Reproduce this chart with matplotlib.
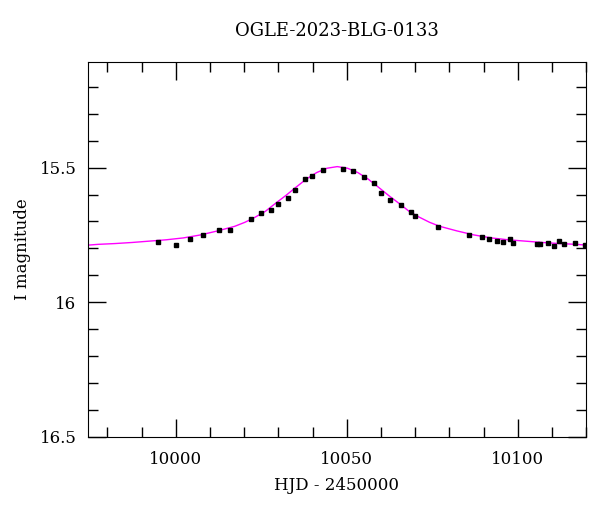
import numpy as np
import matplotlib.pyplot as plt
from matplotlib.ticker import MultipleLocator

# observed photometry (HJD - 2450000, I mag, error)
hjd = [9994.9, 10000.0, 10004.0, 10007.9, 10012.7, 10015.9, 10022.0, 10024.9,
       10027.9, 10029.9, 10032.9, 10034.9, 10037.8, 10039.9, 10042.9, 10048.8,
       10051.8, 10054.9, 10058.0, 10060.0, 10062.7, 10065.9, 10068.7, 10070.0,
       10076.8, 10085.8, 10089.6, 10091.7, 10093.9, 10095.8, 10097.7, 10098.7,
       10105.6, 10106.5, 10108.7, 10110.6, 10111.9, 10113.5, 10116.8, 10119.7]
mag = [15.776, 15.786, 15.765, 15.752, 15.731, 15.732, 15.691, 15.669,
       15.659, 15.634, 15.613, 15.583, 15.543, 15.531, 15.509, 15.505,
       15.513, 15.536, 15.558, 15.595, 15.620, 15.638, 15.663, 15.681,
       15.721, 15.752, 15.758, 15.764, 15.771, 15.776, 15.765, 15.780,
       15.784, 15.784, 15.781, 15.790, 15.774, 15.783, 15.781, 15.786]
err = [0.005, 0.005, 0.005, 0.005, 0.005, 0.005, 0.005, 0.005,
       0.005, 0.004, 0.004, 0.004, 0.004, 0.004, 0.004, 0.004,
       0.004, 0.004, 0.004, 0.004, 0.004, 0.004, 0.005, 0.005,
       0.005, 0.005, 0.005, 0.005, 0.005, 0.005, 0.006, 0.006,
       0.005, 0.005, 0.005, 0.005, 0.006, 0.005, 0.005, 0.006]

# model curve
model_t = [9974.2, 9977.2, 9982.2, 9987.2, 9992.2, 9997.2, 10002.2, 10007.2,
           10012.2, 10017.2, 10020.2, 10023.2, 10026.2, 10029.2, 10032.2,
           10035.2, 10038.2, 10041.2, 10044.2, 10047.2, 10050.2, 10053.2,
           10056.2, 10059.2, 10062.2, 10065.2, 10068.2, 10071.2, 10074.2,
           10077.2, 10082.2, 10087.2, 10092.2, 10097.2, 10102.2, 10107.2,
           10112.2, 10117.2, 10120.2]
model_m = [15.788, 15.785, 15.782, 15.778, 15.773, 15.768, 15.761, 15.750,
           15.735, 15.718, 15.703, 15.684, 15.662, 15.632, 15.603,
           15.572, 15.542, 15.518, 15.502, 15.496, 15.502, 15.518,
           15.542, 15.572, 15.603, 15.632, 15.662, 15.684, 15.703,
           15.718, 15.735, 15.750, 15.761, 15.768, 15.773, 15.778,
           15.782, 15.785, 15.788]

plt.rcParams['font.family'] = 'DejaVu Serif'
plt.rcParams['font.size'] = 12

fig = plt.figure(figsize=(6, 5.12), dpi=100)
ax = fig.add_axes([0.146, 0.147, 0.831, 0.732])

ax.plot(model_t, model_m, color='magenta', lw=1, zorder=1)
ax.errorbar(hjd, mag, yerr=err, fmt='s', color='black', ms=3.5,
            elinewidth=0.8, capsize=0, zorder=2)

ax.set_xlim(9974.2, 10120)
ax.set_ylim(16.5, 15.107)

ax.xaxis.set_major_locator(MultipleLocator(50))
ax.xaxis.set_minor_locator(MultipleLocator(10))
ax.yaxis.set_major_locator(MultipleLocator(0.5))
ax.yaxis.set_minor_locator(MultipleLocator(0.1))
ax.yaxis.set_major_formatter(plt.FuncFormatter(lambda v, p: ('%g' % v)))
ax.tick_params(which='both', direction='in', top=True, right=True, width=1)
ax.tick_params(which='major', length=13)
ax.tick_params(which='minor', length=7)
ax.tick_params(axis='x', which='major', pad=10)
ax.tick_params(axis='y', which='major', pad=8)

ax.set_xlabel('HJD - 2450000', labelpad=7)
ax.set_ylabel('I magnitude', labelpad=6)
ax.set_title('OGLE-2023-BLG-0133', pad=19, fontsize=13)

fig.savefig('out.png')
